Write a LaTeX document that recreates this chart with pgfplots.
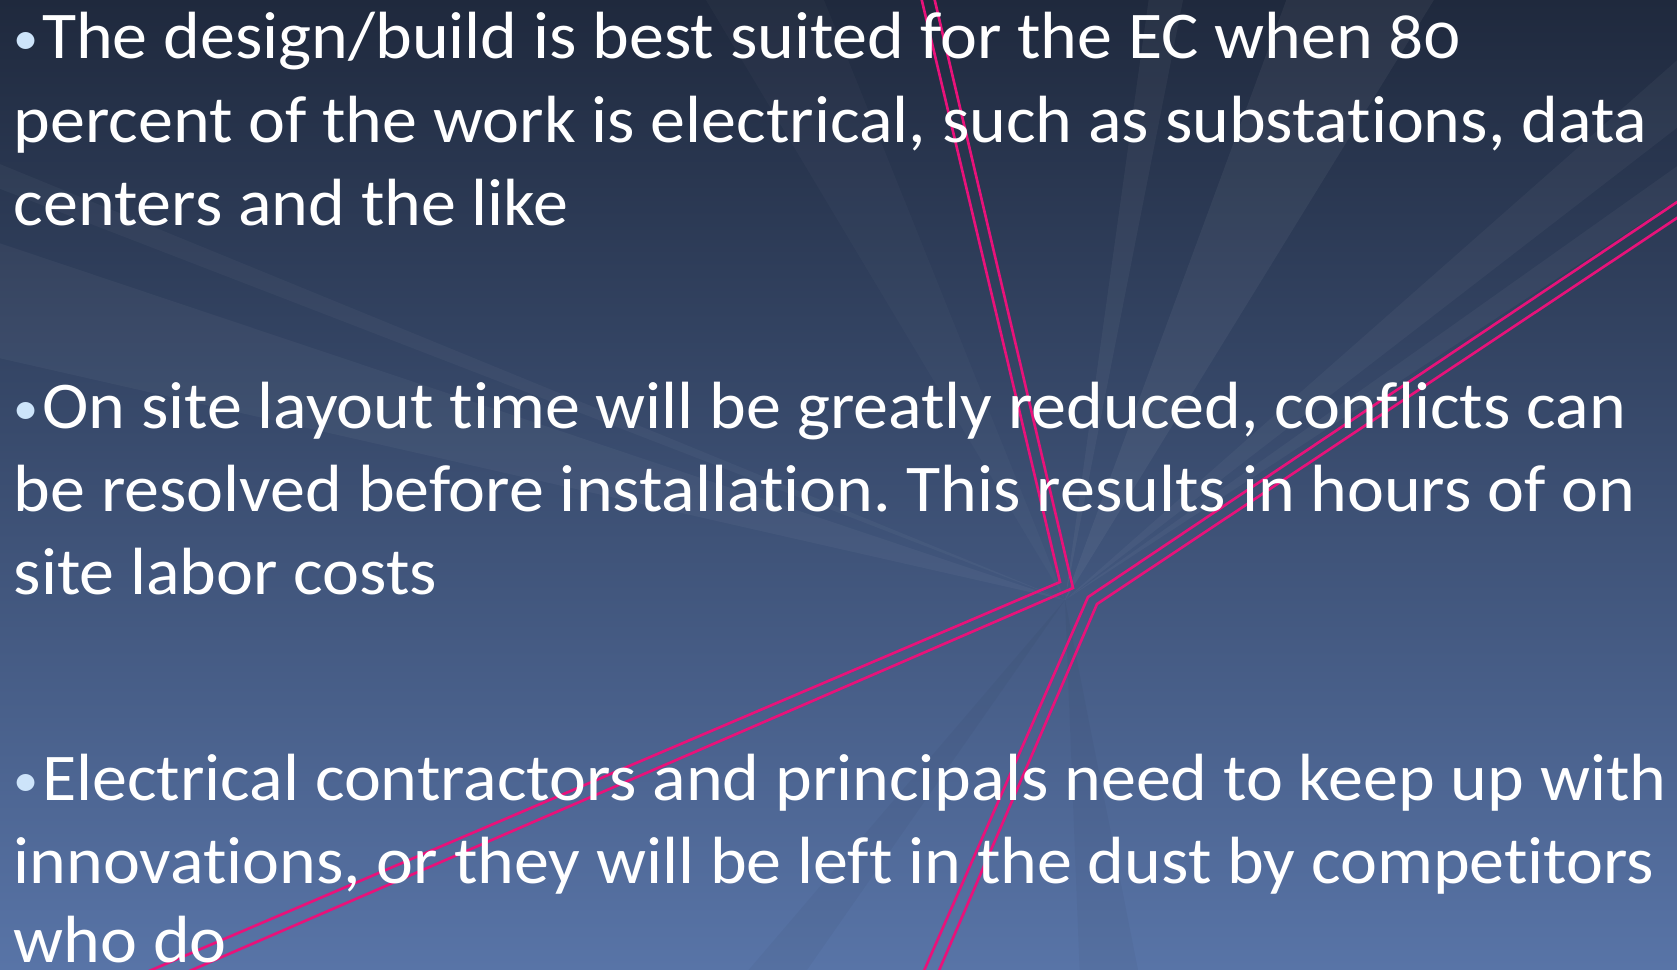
\documentclass[border=0pt]{standalone}
\usepackage{pgfplots}
\pgfplotsset{compat=1.18}
\usepackage{fontspec}
\setmainfont{Carlito}[Numbers=OldStyle, Ligatures={NoCommon}, FakeStretch=1.048]
\frenchspacing
\definecolor{pinkline}{RGB}{232,18,122}
\definecolor{bgtop}{RGB}{31,41,61}
\definecolor{bgmid}{RGB}{72,95,140}
\definecolor{bgbot}{RGB}{88,116,167}
\definecolor{bulletc}{RGB}{205,228,250}
\newcommand{\slideline}[3]{\node[anchor=base west, inner sep=0pt, text=white, font=\fontsize{19}{23}\selectfont] at (axis cs:#1,#2) {#3};}
\newcommand{\bl}{{\color{bulletc}\raisebox{0.12ex}{\scalebox{0.72}{\textbullet}}}\hspace{0.05em}}
\begin{document}
\begin{tikzpicture}
\begin{axis}[
  scale only axis, width=16.77cm, height=9.69cm,
  xmin=0, xmax=1677, ymin=0, ymax=969, y dir=reverse,
  hide axis, clip=true,
  axis background/.style={shade, top color=bgtop, middle color=bgmid, bottom color=bgbot},
]
% faint rays
\addplot[fill=white, fill opacity=0.05, draw=none] coordinates {(1065,600) (1290,-10) (1440,-10)};
\addplot[fill=white, fill opacity=0.045, draw=none] coordinates {(1065,600) (1150,-10) (1185,-10)};
\addplot[fill=white, fill opacity=0.04, draw=none] coordinates {(1065,600) (1700,40) (1700,110)};
\addplot[fill=white, fill opacity=0.04, draw=none] coordinates {(1065,600) (1700,150) (1700,185)};
\addplot[fill=white, fill opacity=0.04, draw=none] coordinates {(1065,600) (-10,240) (-10,356)};
\addplot[fill=white, fill opacity=0.035, draw=none] coordinates {(1065,600) (-10,160) (-10,185)};
\addplot[fill=white, fill opacity=0.025, draw=none] coordinates {(1065,600) (700,-10) (820,-10)};
\addplot[fill=black, fill opacity=0.03, draw=none] coordinates {(1065,600) (740,980) (800,980)};
\addplot[fill=black, fill opacity=0.03, draw=none] coordinates {(1065,600) (1080,980) (1140,980)};
% pink double lines
\addplot[pinkline, line width=0.75pt, no marks] coordinates {(917,-20) (1060,582) (107,989)};
\addplot[pinkline, line width=0.75pt, no marks] coordinates {(930,-20) (1073,588) (148,989)};
\addplot[pinkline, line width=0.75pt, no marks] coordinates {(1707,182) (1088,597) (916,989)};
\addplot[pinkline, line width=0.75pt, no marks] coordinates {(1707,198) (1097,604) (931,989)};
% text
\slideline{13}{58}{\bl The design/build is best suited for the EC when 80}
\slideline{13}{142}{percent of the work is electrical, such as substations, data}
\slideline{13}{225}{centers and the like}
\slideline{13}{428}{\bl On site layout time will be greatly reduced, conflicts can}
\slideline{13}{511}{be resolved before installation. This results in hours of on}
\slideline{13}{594}{site labor costs}
\slideline{13}{800}{\bl Electrical contractors and principals need to keep up with}
\slideline{13}{883}{innovations, or they will be left in the dust by competitors}
\slideline{13}{962}{who do}
\end{axis}
\end{tikzpicture}
\end{document}
